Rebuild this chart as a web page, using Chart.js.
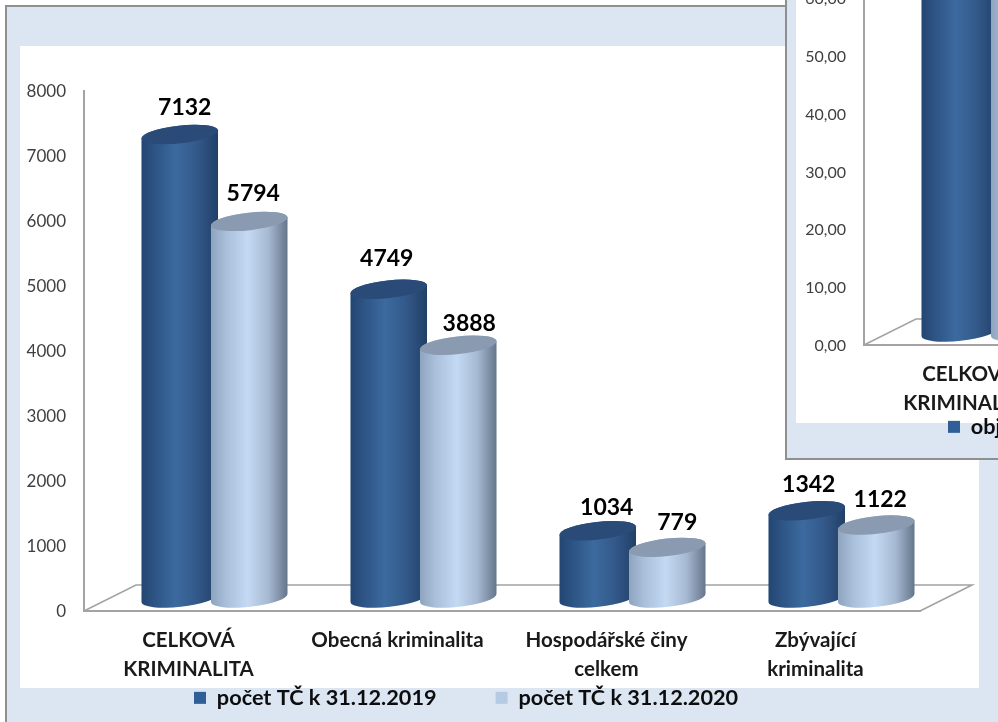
<!DOCTYPE html>
<html lang="cs">
<head>
<meta charset="utf-8">
<title>Kriminalita</title>
<script src="https://cdn.jsdelivr.net/npm/chart.js@4/dist/chart.umd.min.js"></script>
<style>
  html,body{margin:0;padding:0;background:#fff;overflow:hidden;width:998px;height:722px}
  div,canvas{position:absolute;display:block}
  #slide{left:5px;top:5px;width:993px;height:717px;background:#dce6f2;border-left:2px solid #8f8f8f;border-top:2px solid #8f8f8f;box-sizing:border-box}
  #panel{left:20px;top:46px;width:959px;height:642px;background:#fff}
  #main{left:0;top:0;filter:blur(.55px)}
  #inset{left:785px;top:0;width:213px;height:460px;background:#dce6f2;border-left:2px solid #8f8f8f;border-bottom:2px solid #8f8f8f;box-sizing:border-box;overflow:hidden}
  #insetPanel{left:9px;top:0;width:210px;height:423px;background:#fff}
  #second{left:1px;top:-120px;filter:blur(.55px)}
</style>
</head>
<body>
<div id="slide"></div>
<div id="panel"></div>
<canvas id="main" width="998" height="722"></canvas>
<div id="inset">
  <div id="insetPanel"></div>
  <canvas id="second" width="290" height="580"></canvas>
</div>
<script>
// ---- data ----
const categories = [["CELKOVÁ","KRIMINALITA"],"Obecná kriminalita",["Hospodářské činy","celkem"],["Zbývající","kriminalita"]];
const series2019 = [7132,4749,1034,1342];
const series2020 = [5794,3888,779,1122];
const seriesNames = ["počet TČ k 31.12.2019","počet TČ k 31.12.2020"];

const insetCategories = [["CELKOVÁ","KRIMINALITA"]];
const insetSeriesA = [66];
const insetSeriesB = [63];
const insetNames = ["objasněnost"];

// ---- look ----
const FONT = "Lato, 'Noto Sans', sans-serif";
const DARK = {legend:"#2f5f96", cap:"#2a4b78", stops:[[0,"#234673"],[.45,"#3c6a9f"],[.72,"#33598a"],[1,"#213f66"]]};
const LIGHT = {legend:"#b7cae4", cap:"#8a9bb1", stops:[[0,"#8ea3be"],[.2,"#a9bfda"],[.48,"#c4d9f3"],[.75,"#a6b9d2"],[1,"#64758a"]]};
const looks = [DARK, LIGHT];
const AXIS = "#a3a3a3";
const DEPTH_X = 52, DEPTH_Y = 26, TILT = -6.3*Math.PI/180, RY = 8.8;
const GAP = 59;
const labelNudge = [[[1,2],[-6,-2],[5,6],[-2,3]],[[0,1],[7,7],[6,4],[0,4]]];

const cylinders = {
  id:"cylinders",
  afterLayout(chart,args,o){
    const l = chart.legend;
    const w = l.right-l.left;
    l.left = o.legendX-GAP; l.right = l.left + w;
    l.top = o.legendY-GAP-11; l.bottom = chart.height;
  },
  beforeDatasetDraw(){ return false; },
  beforeDatasetsDraw(chart,args,o){
    const {ctx,chartArea:a} = chart;
    // slanted floor behind the bars
    ctx.save();
    ctx.strokeStyle = AXIS; ctx.lineWidth = 1.6;
    ctx.beginPath();
    ctx.moveTo(a.left,a.bottom);
    ctx.lineTo(a.left+DEPTH_X,a.bottom-DEPTH_Y);
    ctx.lineTo(a.right+DEPTH_X,a.bottom-DEPTH_Y);
    ctx.lineTo(a.right,a.bottom);
    ctx.stroke();
    ctx.restore();
    // each cylinder, placed by the library's bar element
    ctx.save();
    ctx.translate(DEPTH_X/2,-DEPTH_Y/2);
    chart.data.datasets.forEach((ds,i)=>{
      const look = looks[i];
      chart.getDatasetMeta(i).data.forEach(bar=>{
        const rx = bar.width/2;
        const g = ctx.createLinearGradient(bar.x-rx,0,bar.x+rx,0);
        look.stops.forEach(s=>g.addColorStop(s[0],s[1]));
        ctx.beginPath();
        ctx.ellipse(bar.x,bar.base,rx,RY,TILT,0,Math.PI,false);
        ctx.ellipse(bar.x,bar.y,rx,RY,TILT,Math.PI,0,false);
        ctx.closePath();
        ctx.fillStyle = g; ctx.fill();
        ctx.beginPath();
        ctx.ellipse(bar.x,bar.y,rx,RY,TILT,0,2*Math.PI);
        ctx.fillStyle = look.cap; ctx.fill();
      });
    });
    ctx.restore();
  },
  afterDatasetsDraw(chart,args,o){
    if(!o.values) return;
    const {ctx} = chart;
    ctx.save();
    ctx.font = "bold 23px "+FONT;
    ctx.fillStyle = "#000";
    ctx.textAlign = "center"; ctx.textBaseline = "middle";
    chart.data.datasets.forEach((ds,i)=>{
      chart.getDatasetMeta(i).data.forEach((bar,j)=>{
        const n = labelNudge[i][j];
        ctx.fillText(String(ds.data[j]), bar.x+DEPTH_X/2+4+n[0], bar.y-DEPTH_Y/2-29+n[1]);
      });
    });
    ctx.restore();
  }
};

function build(id,labels,sets,yOpts,geom){
  const fixX = s=>{ s.height = geom.height-geom.bottom-geom.legendBand; };
  return new Chart(document.getElementById(id),{
    type:"bar",
    data:{labels:labels,datasets:sets.map((s,i)=>({label:s.name,data:s.data,backgroundColor:looks[i].legend,categoryPercentage:.665,barPercentage:1.108}))},
    plugins:[cylinders],
    options:{
      responsive:false,animation:false,
      layout:{autoPadding:false,padding:{left:0,top:geom.top,right:geom.right,bottom:0}},
      plugins:{
        tooltip:{enabled:false},
        legend:{position:"bottom",align:"start",maxHeight:geom.legendBand,
          labels:{boxWidth:12,boxHeight:12,padding:GAP,color:"#0d0d0d",font:{family:FONT,size:21.7,weight:"bold"},
            filter:(it)=>it.datasetIndex<geom.legendCount}},
        cylinders:{values:geom.values,legendX:geom.legendX,legendY:geom.legendY}
      },
      scales:{
        x:{grid:{display:false,drawTicks:false},border:{color:AXIS,width:2},afterFit:fixX,
           ticks:{padding:geom.xPad,color:"#1a1a1a",maxRotation:0,autoSkip:false,font:{family:FONT,size:20.5,weight:"bold",lineHeight:1.4}}},
        y:Object.assign({grid:{display:false,drawTicks:false},border:{color:AXIS,width:2},
           afterFit:s=>{s.width=geom.axisX;}},yOpts)
      }
    }
  });
}

build("main",categories,
  [{name:seriesNames[0],data:series2019},{name:seriesNames[1],data:series2020}],
  {min:0,max:8000,ticks:{stepSize:1000,padding:18,labelOffset:1,color:"#404040",font:{family:FONT,size:17},callback:v=>String(v)}},
  {height:722,top:91,bottom:611,right:78,axisX:84,xPad:15,values:true,legendX:194,legendY:698,legendBand:34,legendCount:2});

build("second",insetCategories,
  [{name:insetNames[0],data:insetSeriesA},{name:"objasněnost 2020",data:insetSeriesB}],
  {min:0,max:70,ticks:{stepSize:10,padding:18,labelOffset:1,color:"#404040",font:{family:FONT,size:16},callback:v=>v.toFixed(2).replace(".",",")}},
  {height:580,top:60,bottom:465,right:5,axisX:76,xPad:15,values:false,legendX:160,legendY:547,legendBand:34,legendCount:1});
</script>
</body>
</html>
